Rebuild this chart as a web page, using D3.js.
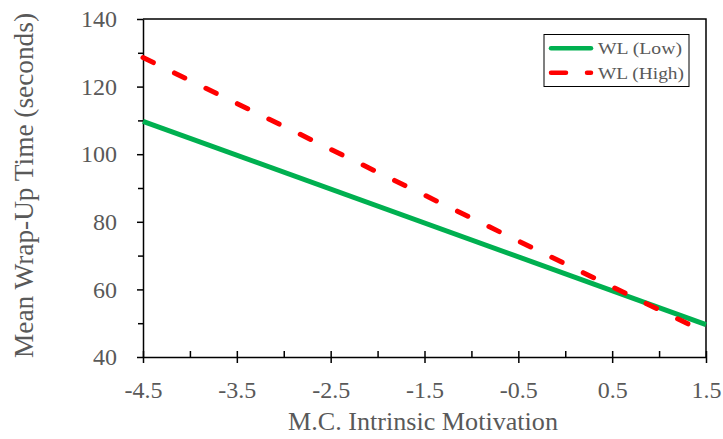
<!DOCTYPE html>
<html>
<head>
<meta charset="utf-8">
<script src="https://cdn.jsdelivr.net/npm/d3@7"></script>
<style>
  html, body { margin: 0; padding: 0; background: #fff; }
  svg { display: block; }
</style>
</head>
<body>
<svg id="chart" width="723" height="439"></svg>
<script>
// Simple-slope endpoints at the ends of the x range
const xRange = [-4.5, 1.5];
const lowValues = [109.7, 49.6];
const highValues = [128.6, 47.2];
const seriesNames = ["WL (Low)", "WL (High)"];
const xTickLabels = [-4.5, -3.5, -2.5, -1.5, -0.5, 0.5, 1.5];
const xMinorTicks = [-4.0, -3.0, -2.0, -1.0, 0.0, 1.0];
const yTickLabels = [40, 60, 80, 100, 120, 140];
const yMinorTicks = [50, 70, 90, 110, 130];

const FONT = "'Liberation Serif', 'Times New Roman', serif";
const TEXT_COLOR = "#595959";

const svg = d3.select("#chart");
const plotLeft = 143, plotRight = 706, plotTop = 19, plotBottom = 357;

const x = d3.scaleLinear().domain([-4.5, 1.5]).range([plotLeft, plotRight]);
const y = d3.scaleLinear().domain([40, 140]).range([plotBottom, plotTop]);

// Plot frame (top and right edges)
svg.append("path")
  .attr("d", `M${plotLeft},${plotTop}H${plotRight}V${plotBottom}`)
  .attr("fill", "none").attr("stroke", "#000").attr("stroke-width", 1.5);

// Y axis: major ticks labelled, minor ticks unlabelled
svg.append("g").attr("transform", `translate(${plotLeft},0)`)
  .call(d3.axisLeft(y).tickValues(yTickLabels).tickSize(6).tickPadding(20).tickSizeOuter(0));
svg.append("g").attr("transform", `translate(${plotLeft},0)`)
  .call(d3.axisLeft(y).tickValues(yMinorTicks).tickSize(5).tickFormat("").tickSizeOuter(0))
  .select(".domain").remove();

// X axis: major ticks cross the axis, minor ticks point inward
const fmt = d => d.toFixed(1);   // plain hyphen for negatives
const xAxis = svg.append("g").attr("transform", `translate(0,${plotBottom})`)
  .call(d3.axisBottom(x).tickValues(xTickLabels).tickSize(6).tickPadding(18)
    .tickFormat(fmt).tickSizeOuter(0));
xAxis.selectAll(".tick line").attr("y1", -6);
svg.append("g").attr("transform", `translate(0,${plotBottom})`)
  .call(d3.axisBottom(x).tickValues(xMinorTicks).tickSizeInner(-6).tickFormat("").tickSizeOuter(0))
  .select(".domain").remove();

svg.selectAll(".domain, .tick line").attr("stroke", "#000").attr("stroke-width", 1.5);
svg.selectAll(".tick text")
  .style("font-family", FONT).style("font-size", "24px").style("fill", TEXT_COLOR);

// Axis titles
svg.append("text")
  .attr("x", 288).attr("y", 430)
  .attr("textLength", 270).attr("lengthAdjust", "spacingAndGlyphs")
  .style("font-family", FONT).style("font-size", "25.5px").style("fill", TEXT_COLOR)
  .text("M.C. Intrinsic Motivation");
svg.append("text")
  .attr("transform", `translate(33,358) rotate(-90)`)
  .attr("textLength", 345).attr("lengthAdjust", "spacingAndGlyphs")
  .style("font-family", FONT).style("font-size", "26.5px").style("fill", TEXT_COLOR)
  .text("Mean Wrap-Up Time (seconds)");

// Lines
const line = d3.line().x(d => x(d[0])).y(d => y(d[1]));
const lowData = xRange.map((v, i) => [v, lowValues[i]]);
const highData = xRange.map((v, i) => [v, highValues[i]]);

svg.append("path").datum(lowData).attr("d", line)
  .attr("fill", "none").attr("stroke", "#00B050").attr("stroke-width", 5);
svg.append("path").datum(highData).attr("d", line)
  .attr("fill", "none").attr("stroke", "#FF0000").attr("stroke-width", 5)
  .attr("stroke-dasharray", "11.5,23.5").attr("stroke-linecap", "round");

// Legend
const lg = svg.append("g");
lg.append("rect").attr("x", 544).attr("y", 34.5).attr("width", 145).attr("height", 52)
  .attr("fill", "#fff").attr("stroke", "#000").attr("stroke-width", 1);
const styles = [
  { color: "#00B050", dash: null, width: 84 },
  { color: "#FF0000", dash: "15,21", width: 86 }
];
seriesNames.forEach((name, i) => {
  const yy = 48.3 + i * 24.4;
  const seg = lg.append("line").attr("x1", 551).attr("x2", 591).attr("y1", yy).attr("y2", yy)
    .attr("stroke", styles[i].color).attr("stroke-width", 4.5).attr("stroke-linecap", "round");
  if (styles[i].dash) seg.attr("stroke-dasharray", styles[i].dash);
  lg.append("text").attr("x", 598).attr("y", yy + 6)
    .attr("textLength", styles[i].width).attr("lengthAdjust", "spacingAndGlyphs")
    .style("font-family", FONT).style("font-size", "17px").style("fill", TEXT_COLOR)
    .text(name);
});
</script>
</body>
</html>
